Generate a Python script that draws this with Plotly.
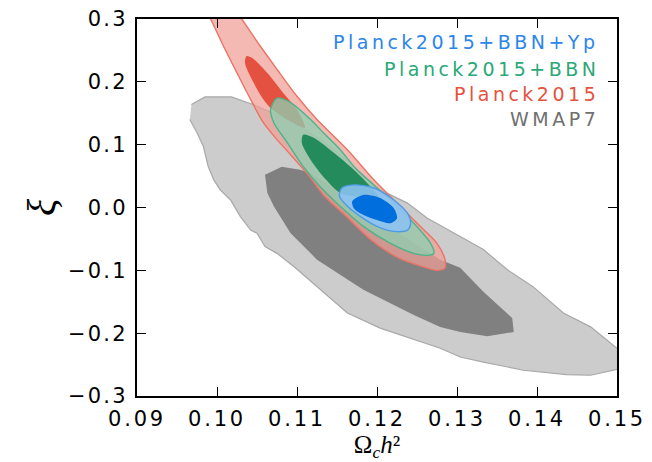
import plotly.graph_objects as go

# ---- data (x = Omega_c h^2, y = xi) ----
wmap7_outer_x = [0.0968, 0.0985, 0.1018, 0.1045, 0.1088, 0.1130, 0.1165, 0.1204, 0.1238, 0.1263,
                 0.1304, 0.1333, 0.1363, 0.1395, 0.1433, 0.1467, 0.1498, 0.1505, 0.1505, 0.1467,
                 0.1437, 0.1383, 0.1333, 0.1304, 0.1279, 0.1204, 0.1163, 0.1129, 0.1113, 0.1096,
                 0.1075, 0.1060, 0.1050, 0.1042, 0.1029, 0.1017, 0.1004, 0.0996, 0.0989, 0.0983,
                 0.0975, 0.0966]
wmap7_outer_y = [0.164, 0.176, 0.176, 0.164, 0.140, 0.108, 0.072, 0.028, 0.007, -0.017,
                 -0.046, -0.067, -0.099, -0.126, -0.168, -0.190, -0.222, -0.228, -0.256, -0.267,
                 -0.266, -0.259, -0.246, -0.238, -0.224, -0.192, -0.168, -0.131, -0.113, -0.094,
                 -0.073, -0.062, -0.041, -0.036, -0.014, 0.012, 0.028, 0.044, 0.065, 0.097,
                 0.119, 0.140]

wmap7_inner_x = [0.1060, 0.1081, 0.1104, 0.1117, 0.1167, 0.1229, 0.1279, 0.1304, 0.1333, 0.1354,
                 0.1369, 0.1371, 0.1338, 0.1304, 0.1279, 0.1246, 0.1183, 0.1125, 0.1092, 0.1071,
                 0.1063]
wmap7_inner_y = [0.052, 0.065, 0.060, 0.055, 0.012, -0.042, -0.083, -0.096, -0.134, -0.158,
                 -0.176, -0.198, -0.205, -0.198, -0.190, -0.171, -0.131, -0.083, -0.041, 0.002,
                 0.023]

planck_outer_x = [0.1014, 0.1031, 0.1054, 0.1075, 0.1100, 0.1125, 0.1163, 0.1196, 0.1225, 0.1254,
                  0.1275, 0.1285, 0.1285, 0.1275, 0.1254, 0.1225, 0.1194, 0.1163, 0.1133, 0.1114,
                  0.1092, 0.1075, 0.1058, 0.1042, 0.1025, 0.1008, 0.0992, 0.0979]
planck_outer_y = [0.331, 0.300, 0.257, 0.220, 0.177, 0.140, 0.092, 0.044, 0.007, -0.030,
                  -0.057, -0.083, -0.096, -0.100, -0.093, -0.079, -0.053, -0.016, 0.020, 0.052,
                  0.084, 0.108, 0.135, 0.172, 0.214, 0.257, 0.300, 0.331]

planck_inner_x = [0.1063, 0.1083, 0.1100, 0.1110, 0.1092, 0.1069, 0.1058, 0.1046, 0.1035, 0.1037,
                  0.1044, 0.1063]
planck_inner_y = [0.214, 0.182, 0.156, 0.127, 0.137, 0.156, 0.172, 0.198, 0.230, 0.241,
                  0.238, 0.214]

bbn_outer_x = [0.1175, 0.1217, 0.1246, 0.1267, 0.1271, 0.1265, 0.1246, 0.1217, 0.1183, 0.1154,
               0.1129, 0.1108, 0.1088, 0.1071, 0.1067, 0.1075, 0.1092, 0.1117, 0.1133, 0.1154,
               0.1175]
bbn_outer_y = [0.060, 0.012, -0.025, -0.057, -0.073, -0.076, -0.073, -0.057, -0.030, 0.002,
               0.033, 0.065, 0.103, 0.135, 0.156, 0.174, 0.167, 0.140, 0.119, 0.092,
               0.060]

bbn_inner_x = [0.1146, 0.1171, 0.1192, 0.1202, 0.1192, 0.1173, 0.1154, 0.1133, 0.1117, 0.1106,
               0.1108, 0.1121, 0.1146]
bbn_inner_y = [0.087, 0.060, 0.033, 0.015, 0.012, 0.017, 0.023, 0.049, 0.076, 0.103,
               0.116, 0.111, 0.087]

yp_outer_x = [0.1171, 0.1196, 0.1221, 0.1238, 0.1242, 0.1238, 0.1221, 0.1200, 0.1179, 0.1163,
              0.1153, 0.1156, 0.1171]
yp_outer_y = [0.036, 0.031, 0.012, -0.009, -0.025, -0.036, -0.038, -0.030, -0.014, 0.002,
              0.018, 0.031, 0.036]

yp_inner_x = [0.1183, 0.1204, 0.1221, 0.1225, 0.1217, 0.1200, 0.1179, 0.1171, 0.1169, 0.1183]
yp_inner_y = [0.020, 0.015, -0.001, -0.017, -0.025, -0.020, -0.009, -0.001, 0.010, 0.020]

legend_labels = ["Planck2015+BBN+Yp", "Planck2015+BBN", "Planck2015", "WMAP7"]
legend_colors = ["#2b86ea", "#2aa877", "#e4533f", "#707070"]

x_ticks = [0.09, 0.10, 0.11, 0.12, 0.13, 0.14, 0.15]
x_tick_labels = ["0.09", "0.10", "0.11", "0.12", "0.13", "0.14", "0.15"]
y_ticks = [-0.3, -0.2, -0.1, 0.0, 0.1, 0.2, 0.3]
y_tick_labels = ["−0.3", "−0.2", "−0.1", "0.0", "0.1", "0.2", "0.3"]

fig = go.Figure()


def region(xs, ys, fill, line_color, width, smooth):
    fig.add_trace(go.Scatter(
        x=xs, y=ys, mode="lines", fill="toself", fillcolor=fill,
        line=dict(color=line_color, width=width, shape="spline" if smooth else "linear",
                  smoothing=0.8),
        hoverinfo="skip", showlegend=False))


region(wmap7_outer_x, wmap7_outer_y, "#cccccc", "#a8a8a8", 1.2, False)
region(wmap7_inner_x, wmap7_inner_y, "#808080", "rgba(0,0,0,0)", 0, False)
region(planck_outer_x, planck_outer_y, "rgba(240,158,148,0.72)", "#ea7466", 1.4, True)
region(planck_inner_x, planck_inner_y, "rgba(226,72,55,0.92)", "rgba(0,0,0,0)", 0, True)
region(bbn_outer_x, bbn_outer_y, "rgba(140,208,178,0.75)", "#4cb48a", 1.4, True)
region(bbn_inner_x, bbn_inner_y, "rgba(25,135,85,0.92)", "rgba(0,0,0,0)", 0, True)
region(yp_outer_x, yp_outer_y, "rgba(140,195,245,0.88)", "#4d9be6", 1.4, True)
region(yp_inner_x, yp_inner_y, "rgba(0,110,220,1)", "rgba(0,0,0,0)", 0, True)


def spaced(s, px):
    return f'<span style="letter-spacing:{px}px">{s}</span>'


ann = []
ys_paper = [0.939, 0.868, 0.801, 0.735]
for lab, col, yp in zip(legend_labels, legend_colors, ys_paper):
    ann.append(dict(
        x=0.966, y=yp, xref="paper", yref="paper", xanchor="right", yanchor="middle",
        text=spaced(lab, 3.5), showarrow=False,
        font=dict(family="DejaVu Sans", size=19, color=col)))

axis_common = dict(
    showline=True, linewidth=2, linecolor="black", mirror="ticks",
    ticks="inside", ticklen=9, tickwidth=1.3, tickcolor="black",
    showgrid=False, zeroline=False, automargin=False, ticklabeloverflow="allow",
    tickfont=dict(family="DejaVu Sans", size=21, color="black"))

# page body has an 8px margin, so the figure's margins are reduced by 8px
fig.update_layout(
    width=652, height=462,
    margin=dict(l=129, r=43, t=11, b=74),
    paper_bgcolor="white", plot_bgcolor="white",
    xaxis=dict(range=[0.09, 0.15], tickvals=x_ticks,
               ticktext=[spaced(t, 2.8) for t in x_tick_labels],
               ticklabelstandoff=3,
               title=dict(text="Ω<sub><i>c</i></sub><i>h</i>²",
                          font=dict(family="Liberation Serif", size=25, color="black"),
                          standoff=2),
               **axis_common),
    yaxis=dict(range=[-0.3, 0.3], tickvals=y_ticks,
               ticktext=[spaced(t, 2.2) for t in y_tick_labels],
               ticklabelstandoff=3,
               title=dict(text="<i>ξ</i>",
                          font=dict(family="Liberation Serif", size=40, color="black"),
                          standoff=0),
               **axis_common),
    annotations=ann,
)

fig.write_html("out.html")
